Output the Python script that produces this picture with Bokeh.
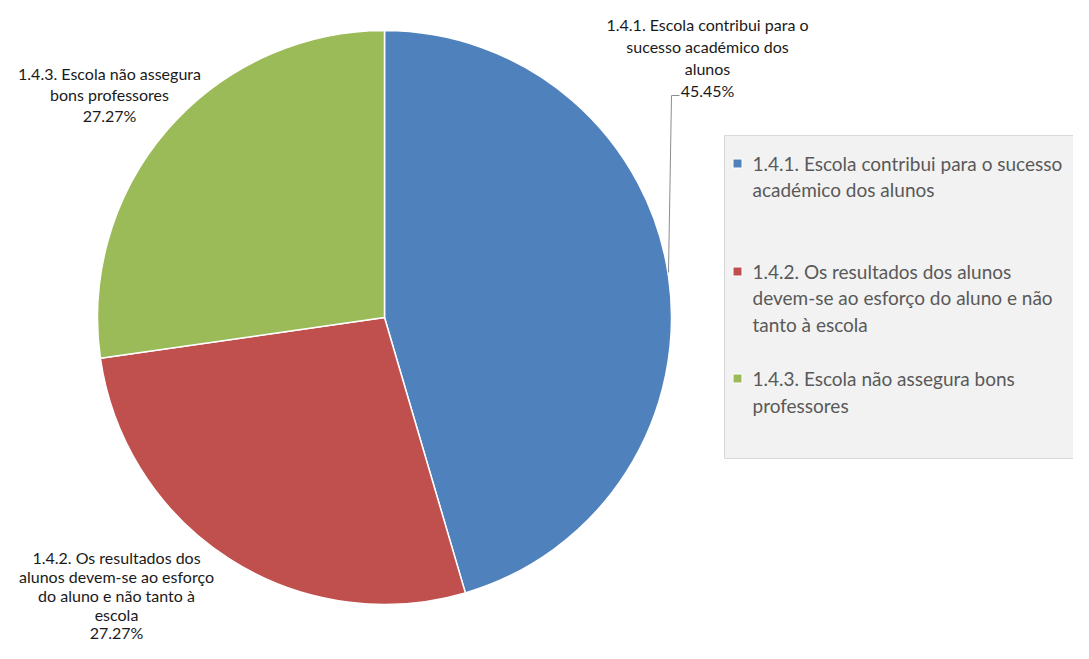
import math
from bokeh.plotting import figure
from bokeh.models import Range1d, ColumnDataSource
from bokeh.core.properties import value
from bokeh.embed import file_html
from bokeh.resources import INLINE

# ---- data ----
categories = [
    "1.4.1. Escola contribui para o sucesso académico dos alunos",
    "1.4.2. Os resultados dos alunos devem-se ao esforço do aluno e não tanto à escola",
    "1.4.3. Escola não assegura bons professores",
]
values = [45.45, 27.27, 27.27]
colors = ["#4F81BD", "#C0504D", "#9BBB59"]

# wrapped text for data labels and legend
label_lines = [
    ["1.4.1. Escola contribui para o", "sucesso académico dos", "alunos"],
    ["1.4.2. Os resultados dos", "alunos devem-se ao esforço", "do aluno e não tanto à", "escola"],
    ["1.4.3. Escola não assegura", "bons professores"],
]
legend_lines = [
    ["1.4.1. Escola contribui para o sucesso", "académico dos alunos"],
    ["1.4.2. Os resultados dos alunos", "devem-se ao esforço do aluno e não", "tanto à escola"],
    ["1.4.3. Escola não assegura bons", "professores"],
]

W, H = 1073, 643
FONT = "Lato"

def sy(y):  # screen y -> data y
    return H - y

p = figure(width=W, height=H, output_backend="svg", toolbar_location=None,
           x_range=Range1d(0, W), y_range=Range1d(0, H),
           min_border=0)
p.axis.visible = False
p.grid.visible = False
p.outline_line_color = None
p.background_fill_color = "white"
p.border_fill_color = "white"

# ---- pie ----
cx, cy, r = 384, sy(317), 287
total = sum(values)
start = math.pi / 2
starts, ends = [], []
for v in values:
    a = 2 * math.pi * v / total
    ends.append(start)
    starts.append(start - a)
    start -= a
src = ColumnDataSource(dict(start=starts, end=ends, color=colors, cat=categories))
p.wedge(x=cx, y=cy, radius=r, start_angle="start", end_angle="end",
        fill_color="color", line_color="white", line_width=1.5, source=src)

# ---- data labels ----
label_pos = [(707, [24, 46, 68, 90]),
             (116, [557, 576, 595, 614, 632]),
             (109, [73, 94, 115])]
for i in range(3):
    lx, ys = label_pos[i]
    lines = label_lines[i] + [f"{values[i]:.2f}%"]
    p.text(x=[lx] * len(lines), y=[sy(y) for y in ys], text=lines,
           text_font=value(FONT), text_font_size="16px", text_color="#1a1a1a",
           text_align="center", text_baseline="middle")

# leader line for first label
p.line(x=[668, 671, 679], y=[sy(272), sy(95), sy(95)], line_color="#8c8c8c", line_width=1)

# ---- legend ----
p.quad(left=724, right=1100, top=sy(135), bottom=sy(458),
       fill_color="#F2F2F2", line_color="#D9D9D9", line_width=1)
legend_y = [[163, 189], [271, 297, 324], [378, 405]]
for i in range(3):
    ys = legend_y[i]
    p.scatter(x=[737], y=[sy(ys[0])], marker="square", size=9,
              fill_color=colors[i], line_color="white", line_width=1)
    p.text(x=[752] * len(ys), y=[sy(y) for y in ys], text=legend_lines[i],
           text_font=value(FONT), text_font_size="19px", text_color="#595959",
           text_align="left", text_baseline="middle")

open("out.html", "w").write(file_html(p, INLINE))
